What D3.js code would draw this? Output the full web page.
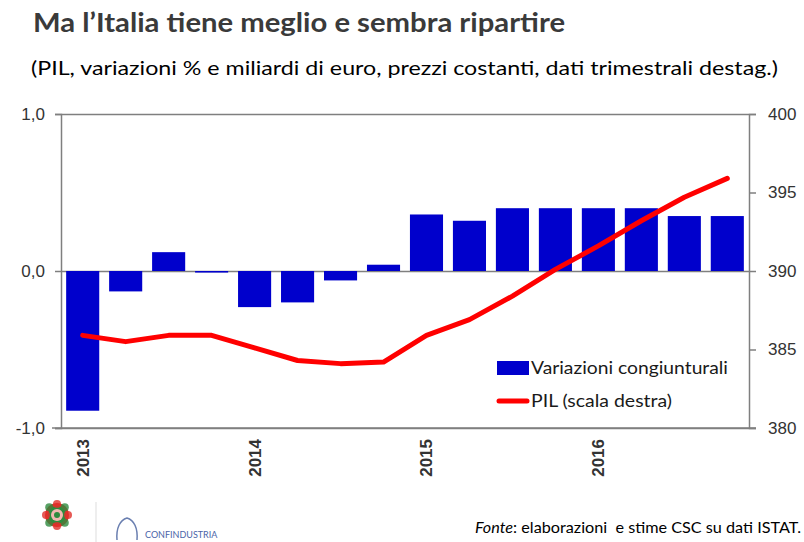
<!DOCTYPE html>
<html><head><meta charset="utf-8"><style>
body { margin: 0; background: #fff; }
svg { font-family: Lato, "Open Sans", sans-serif; }
.axis .domain { stroke: #7f7f7f; stroke-width: 1.5; }
.axis line { stroke: #7f7f7f; stroke-width: 1.5; }
.axis text { fill: #333; font-size: 17px; }
.grid .domain { display: none; }
.grid line { stroke: #7f7f7f; stroke-width: 1.5; }
</style>
</head>
<body>
<svg width="804" height="542"></svg>
<script src="https://cdn.jsdelivr.net/npm/d3@7"></script>
<script>

var quarters = ["2013 T1", "2013 T2", "2013 T3", "2013 T4",
                "2014 T1", "2014 T2", "2014 T3", "2014 T4",
                "2015 T1", "2015 T2", "2015 T3", "2015 T4",
                "2016 T1", "2016 T2", "2016 T3", "2016 T4"];
// variazioni congiunturali, %
var variazioni = [-0.89, -0.13, 0.12, -0.01, -0.23, -0.20, -0.06, 0.04,
                  0.36, 0.32, 0.40, 0.40, 0.40, 0.40, 0.35, 0.35];
// PIL, miliardi di euro (scala destra)
var pil = [385.9, 385.5, 385.9, 385.9, 385.1, 384.3, 384.1, 384.2,
           385.9, 386.9, 388.4, 390.1, 391.6, 393.2, 394.7, 395.9];
var leftTicks = [-1, 0, 1];
var rightTicks = [380, 385, 390, 395, 400];
var yearTicks = ["2013 T1", "2014 T1", "2015 T1", "2016 T1"];

var svg = d3.select("svg"),
    margin = {top: 114, right: 55, bottom: 114, left: 61},
    width = +svg.attr("width") - margin.left - margin.right,
    height = +svg.attr("height") - margin.top - margin.bottom,
    g = svg.append("g").attr("transform", "translate(" + margin.left + "," + margin.top + ")");

var it = d3.formatLocale({decimal: ",", thousands: ".", grouping: [3], currency: ["", "€"], minus: "-"});

var x = d3.scaleBand()
    .domain(quarters)
    .range([0, width])
    .paddingInner(0.23)
    .paddingOuter(0.12);

var yL = d3.scaleLinear().domain([-1, 1]).range([height, 0]);
var yR = d3.scaleLinear().domain([380, 400]).range([height, 0]);

// titles
svg.append("text")
    .attr("x", 33).attr("y", 32)
    .attr("font-size", 26)
    .attr("font-weight", "bold")
    .attr("fill", "#3a3a3a")
    .attr("textLength", 532)
    .attr("lengthAdjust", "spacingAndGlyphs")
    .text("Ma l\u2019Italia tiene meglio e sembra ripartire");

svg.append("text")
    .attr("x", 31).attr("y", 75)
    .attr("font-size", 19)
    .attr("fill", "#000")
    .attr("textLength", 747)
    .attr("lengthAdjust", "spacingAndGlyphs")
    .text("(PIL, variazioni % e miliardi di euro, prezzi costanti, dati trimestrali destag.)");

// gridlines at left ticks
g.append("g")
    .attr("class", "grid")
    .call(d3.axisLeft(yL).tickValues(leftTicks).tickSize(-width).tickFormat(""));

// bars
g.append("g")
    .attr("fill", "#0000cc")
  .selectAll("rect")
  .data(variazioni)
  .enter().append("rect")
    .attr("x", function(d, i) { return x(quarters[i]); })
    .attr("y", function(d) { return yL(Math.max(0, d)); })
    .attr("width", x.bandwidth())
    .attr("height", function(d) { return Math.abs(yL(d) - yL(0)); });

// axes
g.append("g")
    .attr("class", "axis")
    .call(d3.axisLeft(yL).tickValues(leftTicks).tickSize(6).tickPadding(10).tickFormat(it.format(".1f")));

g.append("g")
    .attr("class", "axis")
    .attr("transform", "translate(" + width + ",0)")
    .call(d3.axisRight(yR).tickValues(rightTicks).tickSize(7).tickPadding(12))
    .selectAll("text").attr("font-size", 18);

var xAxis = g.append("g")
    .attr("class", "axis")
    .attr("transform", "translate(0," + height + ")")
    .call(d3.axisBottom(x).tickValues(yearTicks).tickSize(0).tickFormat(function(d) { return d.slice(0, 4); }));
xAxis.select(".domain").remove();
xAxis.selectAll("text")
    .attr("font-size", 16)
    .attr("font-weight", "bold")
    .attr("fill", "#222")
    .attr("transform", "rotate(-90)")
    .attr("text-anchor", "end")
    .attr("x", -11)
    .attr("y", 0)
    .attr("dy", "0.35em");

g.append("line")
    .attr("x1", -9).attr("x2", width + 7)
    .attr("y1", height).attr("y2", height)
    .attr("stroke", "#7f7f7f").attr("stroke-width", 1.5);

// PIL line
var line = d3.line()
    .x(function(d, i) { return x(quarters[i]) + x.bandwidth() / 2; })
    .y(function(d) { return yR(d); });

g.append("path")
    .datum(pil)
    .attr("fill", "none")
    .attr("stroke", "#ff0000")
    .attr("stroke-width", 5)
    .attr("stroke-linejoin", "round")
    .attr("stroke-linecap", "round")
    .attr("d", line);

// legend
var legend = svg.append("g").attr("font-size", 17).attr("fill", "#1a1a1a");
legend.append("rect")
    .attr("x", 497).attr("y", 361).attr("width", 32).attr("height", 14)
    .attr("fill", "#0000cc");
legend.append("text")
    .attr("x", 531).attr("y", 368).attr("dy", "0.35em")
    .attr("textLength", 197).attr("lengthAdjust", "spacingAndGlyphs")
    .text("Variazioni congiunturali");
legend.append("line")
    .attr("x1", 499).attr("x2", 527).attr("y1", 401).attr("y2", 401)
    .attr("stroke", "#ff0000").attr("stroke-width", 5).attr("stroke-linecap", "round");
legend.append("text")
    .attr("x", 531).attr("y", 401).attr("dy", "0.35em")
    .attr("textLength", 141).attr("lengthAdjust", "spacingAndGlyphs")
    .text("PIL (scala destra)");

// footer
var fonte = svg.append("text")
    .attr("x", 475).attr("y", 533)
    .attr("font-size", 15)
    .attr("fill", "#000")
    .attr("textLength", 326)
    .attr("lengthAdjust", "spacingAndGlyphs")
    .style("white-space", "pre");
fonte.append("tspan").attr("font-style", "italic").text("Fonte");
fonte.append("tspan").text(": elaborazioni  e stime CSC su dati ISTAT.");

// logos (rough)
var logo = svg.append("g").attr("transform", "translate(57,515)");
[["#e0302a", 0, 0, 12], ["#2e8b3e", 0, 0, 9], ["#f2b8b0", 0, 0, 6], ["#2e8b3e", 0, 0, 3]].forEach(function(c) {
  logo.append("circle").attr("cx", c[1]).attr("cy", c[2]).attr("r", c[3]).attr("fill", c[0]);
});
d3.range(8).forEach(function(i) {
  var a = i * Math.PI / 4;
  logo.append("circle")
      .attr("cx", 11 * Math.cos(a)).attr("cy", 11 * Math.sin(a)).attr("r", 4)
      .attr("fill", i % 2 ? "#2e8b3e" : "#e0302a").attr("opacity", 0.8);
});
svg.append("line").attr("x1", 96).attr("x2", 96).attr("y1", 502).attr("y2", 542)
    .attr("stroke", "#ddd").attr("stroke-width", 1);
svg.append("path")
    .attr("d", "M117,540 C116,528 120,520 127,518 C134,520 138,528 137,540")
    .attr("fill", "none").attr("stroke", "#6a7fb0").attr("stroke-width", 1.5);
svg.append("text")
    .attr("x", 145).attr("y", 538)
    .attr("font-size", 9).attr("fill", "#4a64a8")
    .text("CONFINDUSTRIA");

</script>
</body></html>
